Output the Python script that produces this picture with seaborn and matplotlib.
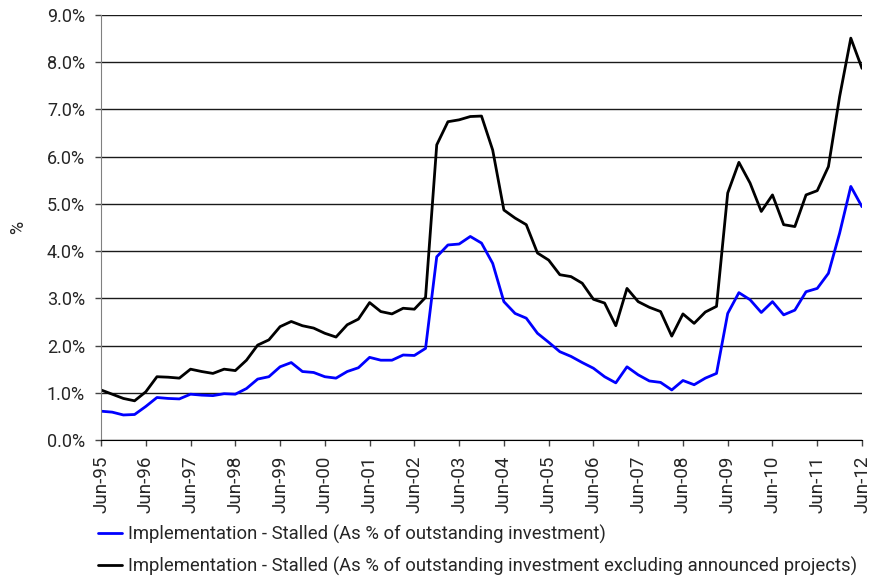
import numpy as np
import pandas as pd
import seaborn as sns
import matplotlib.pyplot as plt

# quarterly data, Jun-95 .. Jun-12 (values in %)
QUARTERS = pd.period_range("1995Q2", "2012Q2", freq="Q")

STALLED_ALL = [
    0.61, 0.59, 0.53, 0.54, 0.71, 0.90, 0.88, 0.87, 0.97, 0.95,
    0.94, 0.98, 0.97, 1.09, 1.29, 1.34, 1.55, 1.64, 1.45, 1.43,
    1.34, 1.31, 1.45, 1.53, 1.75, 1.69, 1.69, 1.80, 1.79, 1.94,
    3.88, 4.13, 4.15, 4.31, 4.17, 3.74, 2.93, 2.68, 2.58, 2.26,
    2.07, 1.87, 1.77, 1.64, 1.52, 1.34, 1.21, 1.55, 1.38, 1.25,
    1.22, 1.06, 1.26, 1.17, 1.31, 1.41, 2.68, 3.12, 2.97, 2.70,
    2.93, 2.65, 2.75, 3.14, 3.21, 3.53, 4.38, 5.37, 4.94,
]

STALLED_EXCL = [
    1.06, 0.97, 0.88, 0.83, 1.02, 1.34, 1.33, 1.31, 1.50, 1.45,
    1.41, 1.50, 1.47, 1.69, 2.01, 2.12, 2.40, 2.51, 2.42, 2.37,
    2.26, 2.18, 2.44, 2.56, 2.91, 2.72, 2.67, 2.79, 2.77, 3.02,
    6.25, 6.74, 6.78, 6.85, 6.86, 6.14, 4.87, 4.70, 4.56, 3.96,
    3.81, 3.50, 3.46, 3.32, 2.98, 2.90, 2.42, 3.21, 2.93, 2.81,
    2.72, 2.20, 2.67, 2.47, 2.71, 2.83, 5.23, 5.88, 5.44, 4.84,
    5.19, 4.56, 4.52, 5.19, 5.28, 5.79, 7.27, 8.51, 7.87,
]

SERIES_NAMES = [
    "Implementation - Stalled (As % of outstanding investment)",
    "Implementation - Stalled (As % of outstanding investment excluding announced projects)",
]

Y_TICKS = np.arange(0, 10, 1)

# -----------------------------------------------------------------------------
sns.set_style("white")
plt.rcParams["font.family"] = ["Roboto", "DejaVu Sans"]

labels = [q.strftime("%b-%y") for q in QUARTERS]
df = pd.DataFrame({
    "idx": np.tile(np.arange(len(QUARTERS)), 2),
    "value": STALLED_ALL + STALLED_EXCL,
    "series": np.repeat(SERIES_NAMES, len(QUARTERS)),
})

fig = plt.figure(figsize=(8.8, 5.79), dpi=100)
ax = fig.add_axes([101 / 880, 1 - 440 / 579, 761 / 880, 425 / 579])

sns.lineplot(
    data=df, x="idx", y="value", hue="series",
    palette=["#0000ff", "#000000"], linewidth=2.0, ax=ax,
)

ax.set_xlim(0, len(QUARTERS) - 1)
ax.set_ylim(0, 9)
ax.set_yticks(Y_TICKS)
ax.set_yticklabels([f"{v:.1f}%" for v in Y_TICKS], fontsize=13)
tick_pos = np.arange(0, len(QUARTERS), 4)
ax.set_xticks(tick_pos)
ax.set_xticklabels([labels[i] for i in tick_pos], rotation=90, fontsize=13.5)
ax.set_xlabel("")
ax.set_ylabel("%", fontsize=13, labelpad=14)

ax.grid(axis="y", color="#1a1a1a", linewidth=1.0)
ax.set_axisbelow(True)
for side in ["top", "right"]:
    ax.spines[side].set_visible(False)
ax.spines["left"].set_color("#808080")
ax.spines["bottom"].set_color("#000000")
ax.tick_params(axis="both", direction="out", length=4.5, width=1,
               color="#444444", bottom=True, left=True)
ax.tick_params(axis="y", pad=7)
ax.tick_params(axis="x", pad=7)

ax.legend(
    loc="upper left", bbox_to_anchor=(-0.014, -0.182), frameon=False,
    fontsize=13.3, handlelength=1.3, handletextpad=0.35, labelspacing=0.7,
    borderaxespad=0,
)

plt.savefig("out.png", dpi=100)
